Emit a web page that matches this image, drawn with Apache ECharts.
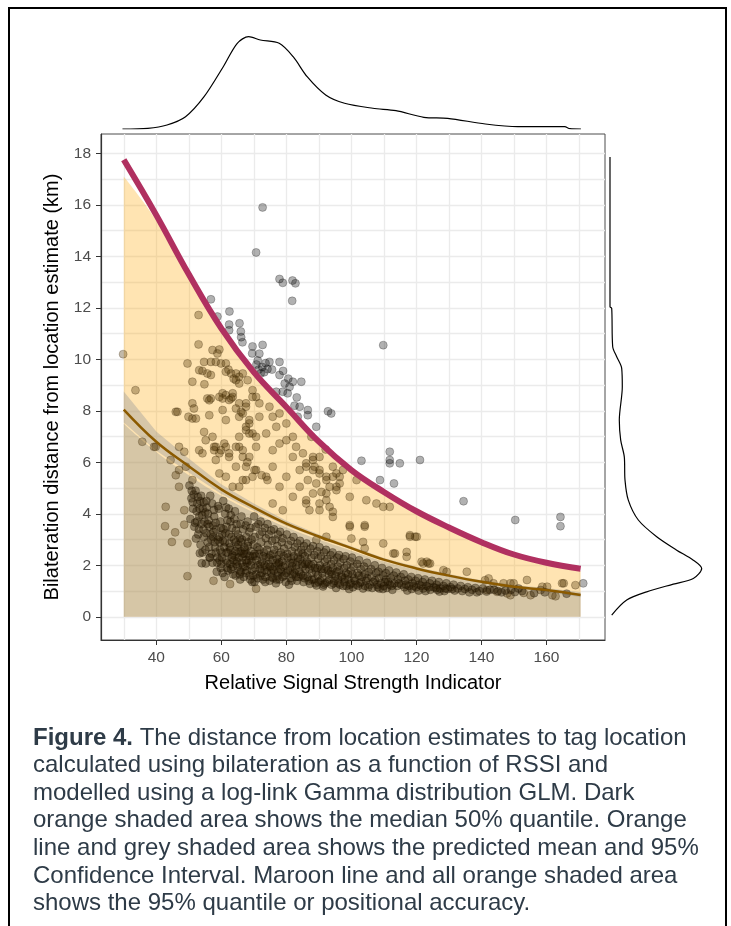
<!DOCTYPE html>
<html>
<head>
<meta charset="utf-8">
<title>Figure 4 - bilateration distance vs RSSI</title>
<script src="https://cdn.jsdelivr.net/npm/echarts@6.0.0/dist/echarts.min.js"></script>
<style>
  html, body { margin: 0; padding: 0; background: #fff; }
  #chart { width: 731px; height: 926px; }
</style>
</head>
<body>
<div id="chart"></div>
<script>
// axis ticks / grid lines
var xGridValues = [30, 40, 50, 60, 70, 80, 90, 100, 110, 120, 130, 140, 150, 160, 170];
var xTicks = [40, 60, 80, 100, 120, 140, 160];
var yGridValues = [0, 1, 2, 3, 4, 5, 6, 7, 8, 9, 10, 11, 12, 13, 14, 15, 16, 17, 18];
var yTicks = [0, 2, 4, 6, 8, 10, 12, 14, 16, 18];

// model curves (RSSI -> km)
var curveX     = [30, 40, 50, 60, 70, 80, 90, 100, 110, 120, 130, 140, 150, 160, 170.5];
var q95Line    = [17.75, 15.6, 13.3, 11.2, 9.5, 8.15, 6.8, 5.7, 4.85, 4.1, 3.47, 2.9, 2.42, 2.1, 1.87];
var q95Ribbon  = [17.1, 15.4, 13.2, 11.1, 9.4, 8.05, 6.7, 5.6, 4.75, 4.0, 3.38, 2.82, 2.34, 2.0, 1.78];
var q50        = [7.5, 6.4, 5.5, 4.7, 4.05, 3.48, 3.0, 2.57, 2.15, 1.83, 1.57, 1.35, 1.18, 1.06, 0.9];
var meanLine   = [8.05, 6.8, 5.85, 4.95, 4.25, 3.62, 3.12, 2.67, 2.22, 1.88, 1.6, 1.36, 1.17, 1.04, 0.85];
var ciLower    = [7.55, 6.45, 5.6, 4.77, 4.12, 3.53, 3.05, 2.61, 2.17, 1.83, 1.55, 1.31, 1.11, 0.97, 0.76];
var ciUpper    = [8.75, 7.2, 6.15, 5.15, 4.4, 3.73, 3.2, 2.74, 2.28, 1.94, 1.66, 1.42, 1.24, 1.12, 0.95];

// marginal densities (x1000)
var topDensX = [29.6, 37.4, 43.3, 49, 54.7, 60.6, 64.9, 68.4, 72, 77.8, 82.1, 86.4, 92.1, 97.9, 106.6, 113.7, 122.3, 129.6, 141.2, 151.2, 165.6, 167.2, 170.6];
var topDens  = [0, 0.16, 0.89, 2.73, 7.17, 13.83, 19.03, 20.5, 19.76, 19.03, 16.05, 11.61, 7.55, 5.71, 4.6, 4.06, 2.6, 2.38, 1.11, 0.51, 0.51, 0.07, 0];
var rightDensY = [17.86, 12.04, 11.98, 10.49, 10.1, 9.65, 8.93, 7.64, 6.86, 6.21, 5.31, 4.53, 3.76, 3.11, 2.59, 2.2, 1.88, 1.49, 1.27, 0.97, 0.65, 0.07];
var rightDens  = [0, 0, 0.68, 1.08, 2.68, 4.68, 4.92, 3.72, 4.28, 5.72, 6.0, 7.32, 11.32, 18.68, 26.68, 33.32, 36.68, 33.32, 25.32, 14.68, 6.68, 0.68];

// observations [RSSI, km]
var outlierPts = [
  [72.7,15.9],[70.7,14.15],[77.9,13.12],[78.9,12.97],[81.9,13.06],[82.8,12.95],[81.8,12.27],
  [56.8,12.33],[58.8,11.66],[62.5,11.86],[62.4,11.35],[62.4,11.13],[65.6,11.4],[66,11.08],[66.1,10.86],[66.5,10.66],
  [69.6,10.5],[69.5,10.23],[72.7,10.56],[71.7,10.22],[70.8,9.8],[71.5,9.6],[72.6,9.7],[73.2,9.5],[74.2,9.62],
  [72.1,9.45],[73.6,9.85],[74.8,9.9],[75.6,9.6],[71.2,9.95],[77.9,9.39],[79.5,9.06],[81,8.93],[78.9,8.74],
  [76.9,8.74],[82,9.13],[80.4,8.68],[77.9,9.9],[79,9.55],[80.6,9.25],[84.6,9.13],[83.2,8.52],[82.5,8.2],
  [84.1,8.16],[86.6,8.03],[86.6,7.83],[83.5,7.77],[92.8,7.98],[93.8,7.9],[89.2,7.38],
  [111.8,6.41],[103.1,6.06],[111.8,6.09],[111.8,5.96],[114.9,5.96],[121.1,6.09],[108.8,5.31],[113.1,5.18],
  [109.8,10.55],[134.5,4.49],[150.4,3.76],[164.3,3.88],[164.3,3.52],[171.3,1.3]
];
var midPts = [
  [29.8,10.2],
  [53,11.72],[53,10.58],[57.3,10.36],[59.4,10.38],[58.8,10.23],[49.6,9.84],[54.7,9.9],[56.8,9.9],[58.3,9.9],
  [59.9,9.84],[61.4,9.84],[54.2,9.55],[56.8,9.39],[61.4,9.52],[63,9.45],[64.5,9.45],[65.5,9.32],[55.7,9.45],
  [62.2,9.6],[63.8,9.25],[54.8,9.03],[53.2,9.58],[51.1,9.13],[60.4,8.68],[63.5,8.68],[62.4,8.42],[64.5,9.19],
  [46,7.96],[51.1,8.29],[51.1,7.7],[55.7,8.48],[56.8,8.48],[59.4,8.54],[61.4,8.61],[63,8.48],[33.6,8.8],
  [57.3,6.99],[58.3,6.6],[59.9,6.47],[60.9,6.73],[62.4,6.35],[64.5,6.6],[65.5,6.99],[66.6,6.47],[67.6,7.25],
  [68.6,7.64],[69.6,7.12],[70.7,6.99],[65.5,9.06],[66.6,9.45],[68.1,9.19],[69.6,8.8],[70.7,8.54],[71.7,8.29],
  [74.8,8.16],[75.8,7.77],[76.9,7.38],[77.9,7.9],[80,7.51],[82,6.99],[83,6.6],[85.1,6.35],[86.1,5.96],
  [88.2,5.7],[90.2,6.21],[92.1,6.5],[94.3,5.83],[96.4,5.44],[70.7,5.7],[73.8,5.44],[75.8,5.83],[77.9,5.05],
  [80,5.44],[82,4.66],[84.1,5.05],[86.1,4.4],[88.2,4.79],[90.2,4.14],[92.3,4.53],[94.3,3.88],[75.8,4.4],
  [78.9,4.14],[67.6,5.31],[65.5,5.05],[46.5,7.96],[51.6,8.09],[49.9,7.77],[52.2,7.7],[54.7,7.18],[35.7,6.8],
  [39.3,6.6],[47,6.6],[48.6,6.41],[53.2,6.47],[54.2,6.35],[55.2,6.86],[57.8,6.6],[59.4,6.35],[56.3,7.83],
  [56.3,8.41],[60.4,8.48],[60.4,8.03],[61.4,7.64],[63.5,8.54],[64.5,8.09],[65.5,7.77],[67.6,8.29],[69.6,8.54],
  [67.6,7.38],[68.6,7.12],[57.8,6.47],[58.3,6.09],[61.4,6.6],[62.4,6.21],[65.5,6.6],[66.6,6.21],[64.5,5.83],
  [67.6,5.83],[59.4,5.57],[61.4,5.44],[63.5,5.05],[66.6,5.31],[69.6,5.44],[68.6,6.21],[70.7,6.6],[65.5,8.29],
  [66.1,7.96],[67.6,8.16],[44.4,6.09],[47,5.7],[46,5.5],[49.1,5.83],[51.1,5.31],[47,5.05],[39.8,6.6],
  [96.4,5.18],[99.5,4.66],[101.6,5.31],[104.6,4.53],[107.7,4.4],[109.8,4.27],[111.8,4.27],[99.5,3.5],[104.1,3.5],
  [109.8,2.85],[118,3.11],[119.6,3.11],[112.9,2.46],[117,2.33],[122.1,2.07],[123.7,2.07],[93.3,4.27],[94.3,4.08],
  [89.2,2.98],[92.3,3.11],[86.1,4.53],[87.1,4.14],[90.2,4.4],[92.3,4.79],[95.4,5.05],[89.2,5.18],[92.3,5.44],
  [95.4,5.57],[97.4,5.7],[66.6,7.9],[68.6,7.51],[71.7,7.77],[73.8,7.12],[75.8,6.47],[77.9,6.73],[80,6.86],
  [82,6.21],[84.1,5.7],[86.1,5.83],[88.2,6.09],[90.2,5.57],[92.3,5.31],[94.3,5.44],[68,6.0],[70.2,5.7],
  [72.4,5.5],[74.2,5.31],[87.7,6.99],[88.2,6.21],[88.7,5.83],[86.6,5.31],[90.2,5.7],[93.3,5.05],[95.4,4.92],
  [90.8,4.85],[99.5,3.56],[104.1,3.56],[100,3.04],[103.6,2.91],[104.1,2.66],[113.4,2.46],[117,2.52],[118,3.17],
  [120.1,3.11],[121.6,2.14],[123.2,2.14],[124.2,2.07],[128.3,1.81],[129.3,1.75],[135.5,1.75],[142.2,1.49],
  [148.9,1.3],[154,1.43],[165.3,1.3],[168.9,1.23],[141.1,1.42],[143.7,1.3],[146.8,1.3],[149.9,1.3],[158.7,1.17],
  [160.2,1.17],[164.8,1.3],[141.7,1.04],[144.8,0.97],[147.9,0.91],[148.9,0.84],[153,0.93],[155.1,0.84],
  [158.2,1.04],[161.8,0.84],[162.8,0.8],[42.9,4.27],[42.7,3.52],[45.8,3.28],[44.8,2.91],[48.6,4.14],[48.6,3.58],
  [49.6,2.85],[49.6,1.58],[57.6,1.4],[62.7,1.27],[70.7,1.09]
];
var densePts = [
  [50.2,5.1],[50.8,4.6],[51.3,4.2],[50.5,3.8],[52.1,4.9],[52.6,4.4],[53.2,3.9],[51.7,3.5],[52.9,3.2],[53.8,4.7],
  [54.3,4.2],[54.9,3.7],[53.6,2.8],[54.6,3.1],[55.4,4.5],[55.9,4.0],[56.3,3.5],[55.1,2.6],[55.8,2.9],[56.6,4.7],
  [54.2,2.5],[53.4,2.47],[52.2,3.04],[54,2.08],[55.2,2.07],[56.4,2.3],
  [57.2,4.4],[57.8,3.9],[58.4,3.4],[57.5,3.1],[58.1,2.7],[57.3,2.1],[58.8,2.3],[59.2,4.2],[59.7,3.7],[60.3,3.2],
  [59.5,2.9],[60.1,2.5],[59.8,1.9],[60.6,4.5],[61.2,4.0],[61.6,3.5],[60.9,2.7],[61.4,2.2],[62.1,1.8],[62.3,4.2],
  [62.8,3.7],[63.1,3.1],[62.5,2.85],[63.4,2.4],[62.7,2.05],[63.6,1.65],[58.6,1.75],[61.0,1.55],
  [64.2,4.1],[64.7,3.6],[65.1,3.2],[64.4,2.9],[65.3,2.5],[64.8,2.15],[65.6,1.8],[66.2,3.9],[66.7,3.4],[66.4,3.0],
  [67.1,2.7],[66.5,2.3],[67.3,1.95],[66.9,1.55],[68.1,3.7],[68.6,3.3],[68.3,2.9],[69.1,2.55],[68.5,2.2],[69.4,1.8],
  [68.9,1.45],[70.1,3.9],[70.6,3.5],[70.3,3.1],[71.1,2.7],[70.5,2.35],[71.3,2.0],[70.8,1.65],[70.2,1.35],[65.8,1.45],
  [67.8,2.45],
  [72.1,3.7],[72.6,3.3],[72.3,2.9],[73.1,2.5],[72.5,2.15],[73.3,1.8],[72.8,1.45],[74.2,3.6],[74.6,3.2],[74.3,2.8],
  [75.1,2.4],[74.5,2.05],[75.3,1.7],[74.9,1.4],[76.2,3.4],[76.6,3.0],[76.3,2.6],[77.1,2.25],[76.5,1.95],[77.3,1.6],
  [76.8,1.3],[78.1,3.3],[78.6,2.9],[78.3,2.5],[77.8,2.1],[78.5,1.75],[77.9,1.45],
  [80.1,3.2],[80.6,2.8],[80.3,2.45],[81.1,2.1],[80.5,1.8],[81.3,1.5],[80.8,1.25],[82.2,3.1],[82.6,2.7],[82.3,2.35],
  [83.1,2.0],[82.5,1.7],[83.3,1.4],[84.2,2.95],[84.6,2.6],[84.3,2.25],[85.1,1.95],[84.5,1.65],[85.3,1.35],[86.2,2.85],
  [86.6,2.5],[86.3,2.15],[87.1,1.85],[86.5,1.55],[87.3,1.28],[79.3,2.65],[81.8,1.95],[85.7,2.35],
  [88.2,2.75],[88.6,2.4],[88.3,2.05],[89.1,1.75],[88.5,1.45],[89.3,1.22],[90.2,2.7],[90.6,2.35],[90.3,2.0],[91.1,1.7],
  [90.5,1.4],[91.3,1.18],[92.2,2.6],[92.6,2.25],[92.3,1.95],[93.1,1.65],[92.5,1.35],[94.2,2.5],[94.6,2.2],[94.3,1.9],
  [95.1,1.6],[94.5,1.3],[95.3,1.12],[96.2,2.4],[96.6,2.1],[96.3,1.8],[97.1,1.55],[96.5,1.25],[98.2,2.35],[98.6,2.0],
  [98.3,1.7],[99.1,1.45],[98.5,1.2],[99.3,1.08],[100.2,2.3],[100.6,1.95],[100.3,1.65],[101.1,1.4],[100.5,1.15],
  [102.4,2.2],[102.9,1.85],[103.3,1.55],[102.6,1.3],[103.6,1.1],[104.8,2.1],[105.3,1.75],[104.9,1.5],[105.6,1.25],
  [107.2,2.0],[107.6,1.7],[107.3,1.42],[108.1,1.15],[109.4,1.9],[109.8,1.6],[110.3,1.35],[109.7,1.08],[111.6,1.8],
  [112.1,1.5],[111.8,1.25],[112.6,1.05],[113.8,1.72],[114.3,1.45],[114.1,1.2],[116.1,1.65],[116.5,1.4],[116.3,1.15],
  [117.2,1.02],[118.4,1.55],[118.8,1.3],[118.6,1.08],[120.5,1.5],[120.9,1.25],[120.7,1.02],
  [122.6,1.45],[123.1,1.2],[122.8,1.0],[124.8,1.4],[125.3,1.15],[126.9,1.35],[127.3,1.1],[127.1,0.98],[129.2,1.3],
  [129.6,1.08],[131.4,1.25],[131.8,1.02],[133.6,1.2],[134.1,1.0],[135.8,1.15],[136.3,0.95],[138.1,1.12],[138.6,0.95],
  [140.4,1.1],[142.6,1.05],[145.1,1.0],[147.4,1.02],[150.3,0.96],[152.5,1.0],[156.2,0.92],[159.5,0.95],[166.2,0.9]
];
var densePts2 = [
  [51.5,4.75],[52.4,4.1],[51.9,3.65],[53.5,4.5],[54.1,3.95],[53.1,3.4],[54.5,3.4],[55.5,4.25],[56.1,3.75],[55.4,3.25],
  [56.7,3.2],[56.2,2.7],[57.0,2.45],[57.7,4.15],[58.3,3.65],[57.4,3.55],[58.9,3.0],[58.3,2.5],[59.5,2.2],[59.0,4.3],
  [59.9,3.45],[60.5,2.95],[60.0,2.05],[60.4,1.7],
  [61.5,4.25],[61.9,3.75],[61.3,3.25],[62.0,2.5],[61.8,1.9],[62.9,3.95],[63.3,3.45],[62.8,2.6],[63.8,2.2],[63.0,1.85],
  [64.0,3.8],[64.5,3.35],[64.9,2.7],[64.1,2.35],[65.0,1.95],[64.4,1.6],[65.9,3.6],[65.7,3.05],[66.0,2.55],[66.3,2.1],
  [66.0,1.75],[67.5,3.55],[67.7,3.1],[67.0,2.45],[67.9,2.1],[67.5,1.7],[69.0,3.45],[69.3,3.0],[69.7,2.35],[69.0,2.0],
  [69.8,1.6],[69.5,1.35],
  [71.4,3.6],[71.8,3.2],[71.6,2.45],[71.9,1.85],[72.0,1.6],[73.4,3.45],[73.7,3.05],[73.8,2.3],[73.9,1.95],[73.6,1.55],
  [75.3,3.35],[75.6,2.95],[75.8,2.2],[75.7,1.85],[75.9,1.5],[77.4,3.2],[77.2,2.75],[77.6,2.05],[77.5,1.75],[78.9,3.05],
  [79.2,2.35],[79.0,1.95],[79.4,1.6],[79.8,1.35],
  [81.4,2.95],[81.7,2.55],[81.5,2.25],[81.9,1.65],[83.4,2.85],[83.7,2.5],[83.6,2.15],[83.8,1.55],[85.4,2.75],[85.0,2.45],
  [85.8,2.05],[85.6,1.5],[87.4,2.65],[87.7,2.3],[87.6,2.0],[87.9,1.45],[89.5,2.55],[89.8,2.25],[89.6,1.9],[89.9,1.35],
  [91.6,2.5],[91.8,2.15],[91.7,1.85],[91.9,1.3],[93.6,2.4],[93.8,2.05],[93.7,1.75],[93.9,1.25],[95.7,2.3],[95.8,1.95],
  [95.9,1.45],[97.6,2.25],[97.8,1.9],[97.9,1.35],[99.7,2.15],[99.8,1.8],[99.9,1.3],[101.8,2.05],[101.9,1.7],[102.1,1.2],
  [103.9,1.95],[104.1,1.65],[104.2,1.2],[106.1,1.85],[106.2,1.55],[106.4,1.12],[108.3,1.75],[108.5,1.5],[108.6,1.1],
  [110.6,1.7],[110.7,1.45],[110.9,1.12],
  [113.0,1.6],[113.2,1.3],[115.2,1.55],[115.4,1.25],[117.5,1.45],[117.7,1.2],[119.7,1.4],[119.9,1.15],[121.9,1.35],
  [122.1,1.1],[124.1,1.3],[124.3,1.05],[126.2,1.25],[126.4,1.05],[128.3,1.2],[128.6,1.0],[130.5,1.15],[132.7,1.1],
  [134.9,1.08],[137.1,1.05],[139.4,1.0],[141.6,0.98],[143.9,1.05],[146.2,0.95],[149.1,1.05],[151.4,1.1]
];
var denseCore = [
  [50.9,4.9],[51.2,4.45],[52.8,4.65],[53.3,4.2],[54.6,4.45],[55.1,4.05],[53.9,3.6],[52.5,3.7],
  [55.8,3.6],[56.9,3.0],[56.5,2.3],[57.6,3.3],[58.0,2.9],[58.7,2.1],[59.3,3.1],[59.6,2.6],[60.2,2.3],[60.7,3.4],
  [61.1,2.9],[61.6,2.5],[61.9,2.1],[62.4,3.2],[62.6,2.7],[63.2,2.3],[63.5,1.95],[63.9,3.0],[64.3,2.55],[64.6,2.05],
  [65.2,2.8],[65.4,2.3],[65.7,1.65],[66.1,2.9],[66.6,2.45],[66.8,1.95],[67.3,2.6],[67.6,2.2],[67.9,1.8],[68.2,2.75],
  [68.8,2.35],[68.7,1.6],[69.3,2.15],[69.9,2.8],[70.2,2.45],[70.4,1.9],[70.9,2.2],[71.2,1.5],[71.7,2.6],[72.0,2.05],
  [72.4,1.7],[72.9,2.35],[73.3,2.0],[73.5,1.35],[74.0,2.6],[74.1,1.75],[74.7,2.3],[75.0,1.95],[75.5,1.55],[76.0,2.45],
  [76.1,1.8],[76.9,2.1],[77.0,1.45],[77.7,2.4],[78.2,1.85],[78.7,2.15],[78.8,1.55],[79.6,2.0],[80.0,1.7],[80.4,2.3],
  [81.2,1.8],[81.6,1.4],[82.0,2.1],[82.8,1.85],[83.0,1.55],[83.5,2.3],[84.0,1.75],[84.8,2.05],[85.2,1.6],[85.9,1.85],
  [86.8,2.05],[86.9,1.4],[87.8,1.7],[88.8,1.9],[88.9,1.3],[89.7,1.6],[90.8,1.85],[91.0,1.5],[91.5,1.25],[92.8,1.8],
  [93.3,1.45],[94.0,1.65],[94.8,1.4],[95.5,1.75],[96.0,1.3],[96.9,1.6],[97.5,1.2],[98.0,1.5],[99.0,1.65],[99.5,1.25],
  [100.8,1.5],[101.5,1.25],[102.3,1.6],[103.0,1.35],[104.5,1.4],[105.2,1.15],[106.8,1.35],[107.9,1.25],[109.1,1.3],
  [110.0,1.2],[111.3,1.35],[112.4,1.2],[114.6,1.3],[116.8,1.25],[119.2,1.2],[121.5,1.2],[123.8,1.15],[126.0,1.12],
  [128.9,1.1],[131.0,1.08]
];

var captionLines = [
  '{b|Figure 4.} The distance from location estimates to tag location',
  'calculated using bilateration as a function of RSSI and',
  'modelled using a log-link Gamma distribution GLM. Dark',
  'orange shaded area shows the median 50% quantile. Orange',
  'line and grey shaded area shows the predicted mean and 95%',
  'Confidence Interval. Maroon line and all orange shaded area',
  'shows the 95% quantile or positional accuracy.'
];

var FONT = '"Liberation Sans", Arial, sans-serif';
var CAPTION_COLOR = '#2e3b47';

function pairs(xs, ys) {
  return xs.map(function (x, i) { return [x, ys[i]]; });
}

var chart = echarts.init(document.getElementById('chart'));

var captionGraphics = captionLines.map(function (line, i) {
  return {
    type: 'text',
    x: 33,
    y: 738 + i * 27.6,
    silent: true,
    style: {
      text: line,
      fontFamily: FONT,
      fontSize: 24,
      fill: CAPTION_COLOR,
      verticalAlign: 'middle',
      rich: {
        b: { fontFamily: FONT, fontSize: 24, fontWeight: 'bold', fill: CAPTION_COLOR }
      }
    }
  };
});

// grey 95% CI ribbon between ciLower and ciUpper
function renderCiBand(params, api) {
  var pts = [];
  curveX.forEach(function (x, i) { pts.push(api.coord([x, ciUpper[i]])); });
  for (var i = curveX.length - 1; i >= 0; i--) {
    pts.push(api.coord([curveX[i], ciLower[i]]));
  }
  return {
    type: 'polygon',
    shape: { points: pts },
    style: { fill: 'rgba(153,153,153,0.4)' }
  };
}

var option = {
  animation: false,
  backgroundColor: '#fff',
  grid: [
    { left: 101, top: 134, width: 504, height: 506, show: true, borderColor: '#4d4d4d', borderWidth: 1,
      backgroundColor: '#fff', outerBoundsMode: 'none' },
    { left: 101, top: 20, width: 504, height: 109, outerBoundsMode: 'none' },
    { left: 610, top: 134, width: 100, height: 506, outerBoundsMode: 'none' }
  ],
  xAxis: [
    { // grid lines only
      type: 'value', gridIndex: 0, min: 23, max: 178, position: 'bottom',
      axisLine: { show: false, onZero: false }, axisLabel: { show: false },
      axisTick: { show: false, customValues: xGridValues },
      splitLine: { show: true, lineStyle: { color: '#ebebeb', width: 1.3 } }
    },
    { // ticks, labels, title
      type: 'value', gridIndex: 0, min: 23, max: 178, position: 'bottom',
      name: 'Relative Signal Strength Indicator', nameLocation: 'middle', nameGap: 33,
      nameTextStyle: { color: '#000', fontSize: 20, fontFamily: FONT },
      axisLine: { show: true, onZero: false, lineStyle: { color: '#333', width: 1.2 } },
      axisTick: { show: true, length: 5, customValues: xTicks, lineStyle: { color: '#333' } },
      axisLabel: { customValues: xTicks, margin: 10, color: '#4d4d4d', fontSize: 15.5, fontFamily: FONT },
      splitLine: { show: false }
    },
    { type: 'value', gridIndex: 1, min: 23, max: 178, show: false },
    { type: 'value', gridIndex: 2, min: 0, max: 40, show: false }
  ],
  yAxis: [
    {
      type: 'value', gridIndex: 0, min: -0.9, max: 18.75, position: 'left',
      axisLine: { show: false, onZero: false }, axisLabel: { show: false },
      axisTick: { show: false, customValues: yGridValues },
      splitLine: { show: true, lineStyle: { color: '#ebebeb', width: 1.3 } }
    },
    {
      type: 'value', gridIndex: 0, min: -0.9, max: 18.75, position: 'left',
      name: 'Bilateration distance from location estimate (km)', nameLocation: 'middle', nameGap: 34,
      nameTextStyle: { color: '#000', fontSize: 20, fontFamily: FONT },
      axisLine: { show: true, onZero: false, lineStyle: { color: '#333', width: 1.2 } },
      axisTick: { show: true, length: 5, customValues: yTicks, lineStyle: { color: '#333' } },
      axisLabel: { customValues: yTicks, margin: 10, color: '#4d4d4d', fontSize: 15.5, fontFamily: FONT },
      splitLine: { show: false }
    },
    { type: 'value', gridIndex: 1, min: 0, max: 24.2, show: false },
    { type: 'value', gridIndex: 2, min: -0.9, max: 18.75, show: false }
  ],
  series: [
    {
      name: '95% quantile area', type: 'line', xAxisIndex: 1, yAxisIndex: 1, z: 2, silent: true,
      smooth: 0.4, symbol: 'none', lineStyle: { width: 0, opacity: 0 },
      areaStyle: { color: 'rgba(255,165,0,0.3)', opacity: 1 },
      data: pairs(curveX, q95Ribbon)
    },
    {
      name: '50% quantile area', type: 'line', xAxisIndex: 1, yAxisIndex: 1, z: 2, silent: true,
      smooth: 0.4, symbol: 'none', lineStyle: { width: 0, opacity: 0 },
      areaStyle: { color: 'rgba(120,130,140,0.3)', opacity: 1 },
      data: pairs(curveX, q50)
    },
    {
      name: '95% CI', type: 'custom', xAxisIndex: 1, yAxisIndex: 1, z: 2, silent: true,
      renderItem: renderCiBand,
      data: [[curveX[0], ciLower[0]]]
    },
    {
      name: 'observations (outside)', type: 'scatter', xAxisIndex: 1, yAxisIndex: 1, z: 3, silent: true,
      symbolSize: 8,
      itemStyle: { color: 'rgba(0,0,0,0.38)', borderColor: 'rgba(0,0,0,0.3)', borderWidth: 1 },
      data: outlierPts
    },
    {
      name: 'observations', type: 'scatter', xAxisIndex: 1, yAxisIndex: 1, z: 3, silent: true,
      symbolSize: 8,
      itemStyle: { color: 'rgba(75,48,0,0.42)', borderColor: 'rgba(50,32,0,0.32)', borderWidth: 1 },
      data: midPts
    },
    {
      // the crowded band: each mark stands for several overlapping observations
      name: 'observations (dense)', type: 'scatter', xAxisIndex: 1, yAxisIndex: 1, z: 3, silent: true,
      symbolSize: 8,
      itemStyle: { color: 'rgba(38,24,0,0.52)', borderColor: 'rgba(30,18,0,0.35)', borderWidth: 1 },
      data: densePts.concat(densePts2, denseCore)
    },
    {
      name: 'mean', type: 'line', xAxisIndex: 1, yAxisIndex: 1, z: 4, silent: true,
      smooth: 0.4, symbol: 'none', lineStyle: { color: '#8b5a00', width: 2.5 },
      data: pairs(curveX, meanLine)
    },
    {
      name: '95% quantile', type: 'line', xAxisIndex: 1, yAxisIndex: 1, z: 5, silent: true,
      smooth: 0.4, symbol: 'none', lineStyle: { color: '#b03060', width: 6 },
      data: pairs(curveX, q95Line)
    },
    {
      name: 'RSSI density', type: 'line', xAxisIndex: 2, yAxisIndex: 2, silent: true,
      smooth: 0.3, symbol: 'none', lineStyle: { color: '#000', width: 1.2 },
      data: pairs(topDensX, topDens)
    },
    {
      name: 'distance density', type: 'line', xAxisIndex: 3, yAxisIndex: 3, silent: true,
      smooth: 0.3, symbol: 'none', lineStyle: { color: '#000', width: 1.2 },
      data: rightDensY.map(function (y, i) { return [rightDens[i], y]; })
    }
  ],
  graphic: [
    { type: 'rect', shape: { x: 9, y: 8, width: 717, height: 960 },
      style: { fill: 'none', stroke: '#000', lineWidth: 2 }, silent: true }
  ].concat(captionGraphics)
};

chart.setOption(option);
</script>
</body>
</html>
